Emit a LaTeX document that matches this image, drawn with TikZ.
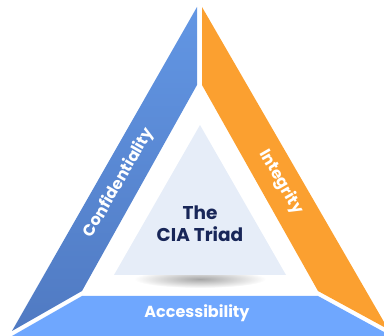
\documentclass[tikz,border=0pt]{standalone}
\usepackage{fontspec}
\setmainfont{Poppins}
\usepackage{xcolor}

\definecolor{confTop}{RGB}{98,150,228}
\definecolor{confBot}{RGB}{80,122,194}
\definecolor{integOrange}{RGB}{251,160,48}
\definecolor{accessBlue}{RGB}{111,167,254}
\definecolor{triadFill}{RGB}{230,237,248}
\definecolor{triadText}{RGB}{24,38,88}

\tikzset{
  bandlabel/.style={text=white, font=\bfseries\fontsize{16}{18}\selectfont, inner sep=0pt},
}

\begin{document}
\begin{tikzpicture}[x=1pt,y=1pt]
\useasboundingbox (0,0) rectangle (384,336);
\shade[top color=confTop, bottom color=confBot] (197,329) -- (197,251) -- (82,45) -- (12,5) -- cycle;
\fill[integOrange] (202,329) -- (202,251) -- (318,45) -- (384,9) -- (384,14) -- cycle;
\fill[accessBlue] (82,40) -- (318,40) -- (384,4) -- (384,0) -- (12,0) -- cycle;
\shade[inner color=black!35, outer color=white] (200,57) ellipse (66 and 9);
\fill[white] (110,61) rectangle (290,66);
\fill[triadFill] (200,211) -- (114,61) -- (286,61) -- cycle;
\node[bandlabel, rotate=60] (conf) at (119,153) {Confidentiality};
\node[bandlabel, rotate=-60] (integ) at (281,154) {Integrity};
\node[bandlabel] (access) at (197,23) {Accessibility};
\node[text=triadText, align=center, font=\bfseries\fontsize{18.5}{22}\selectfont] (triad) at (200,112) {The\\CIA Triad};
\end{tikzpicture}
\end{document}
